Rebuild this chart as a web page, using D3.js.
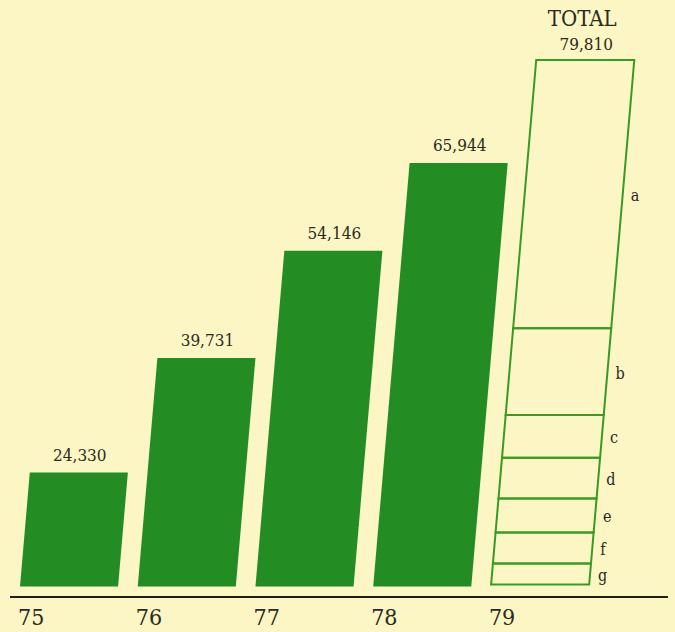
<!DOCTYPE html>
<html>
<head>
<meta charset="utf-8">
<script src="https://cdn.jsdelivr.net/npm/d3@7/dist/d3.min.js"></script>
<style>
  html, body { margin: 0; padding: 0; background: #fbf6c3; }
  svg { display: block; }
  text { font-family: "DejaVu Serif Condensed", "DejaVu Serif", serif; fill: #2b2a22; }
</style>
</head>
<body>
<svg id="chart" width="675" height="632"></svg>
<script>
// Yearly totals
const years = ["75", "76", "77", "78", "79"];
const totals = [24330, 39731, 54146, 65944, 79810];
const valueLabels = ["24,330", "39,731", "54,146", "65,944", "79,810"];

// Breakdown of the final year's total
const segmentKeys = ["g", "f", "e", "d", "c", "b", "a"];
const segmentValues = [3200, 4700, 5200, 6200, 6500, 13200, 40810];

const W = 675, H = 632;
const baseY = 586.5;
const skew = 0.086; // bars lean to the right as they rise

const svg = d3.select("#chart");
svg.append("rect").attr("width", W).attr("height", H).attr("fill", "#fbf6c3");

const x = d3.scaleBand().domain(years).range([20, 589]).paddingInner(0.167).paddingOuter(0).align(0);
const y = d3.scaleLinear().domain([9000, 79810]).range([baseY, 60]);

// parallelogram between two heights, leaning by skew
function slanted(x0, w, yTop, yBot) {
  const offTop = skew * (baseY - yTop), offBot = skew * (baseY - yBot);
  return `M${x0 + offBot},${yBot}L${x0 + offBot + w},${yBot}L${x0 + offTop + w},${yTop}L${x0 + offTop},${yTop}Z`;
}

const bw = x.bandwidth();
const filled = years.slice(0, 4);

svg.append("g").selectAll("path")
  .data(filled)
  .join("path")
  .attr("d", (d, i) => slanted(x(d), bw, y(totals[i]), baseY))
  .attr("fill", "#238c22");

// stacked outline for the last year
const lastYear = years[4];
const total = d3.sum(segmentValues);
const ys = d3.scaleLinear().domain([0, total]).range([baseY - 2, y(totals[4])]);
const stacked = [];
let acc = 0;
segmentKeys.forEach((k, i) => { stacked.push({ key: k, lo: acc, hi: acc + segmentValues[i] }); acc += segmentValues[i]; });

const seg = svg.append("g");
seg.selectAll("path")
  .data(stacked)
  .join("path")
  .attr("d", s => slanted(x(lastYear), bw, ys(s.hi), ys(s.lo)))
  .attr("fill", "none")
  .attr("stroke", "#3a9a24")
  .attr("stroke-width", 2)
  .attr("stroke-linejoin", "miter");

seg.selectAll("text")
  .data(stacked)
  .join("text")
  .attr("x", s => {
    const ym = (ys(s.hi) + ys(s.lo)) / 2;
    return x(lastYear) + bw + skew * (baseY - ym) + 8;
  })
  .attr("y", s => (ys(s.hi) + ys(s.lo)) / 2 + 7)
  .attr("font-size", 16)
  .text(s => s.key);

// value labels above each bar
svg.append("g").selectAll("text")
  .data(years)
  .join("text")
  .attr("x", (d, i) => x(d) + skew * (baseY - y(totals[i])) + bw / 2 + 1)
  .attr("y", (d, i) => y(totals[i]) - (i === 4 ? 10 : 12))
  .attr("text-anchor", "middle")
  .attr("font-size", 17)
  .text((d, i) => valueLabels[i]);

svg.append("text")
  .attr("x", x(lastYear) + skew * (baseY - y(totals[4])) + bw / 2 - 3)
  .attr("y", 26)
  .attr("text-anchor", "middle")
  .attr("font-size", 22)
  .text("TOTAL");

// baseline and year labels
svg.append("line")
  .attr("x1", 10).attr("x2", 668)
  .attr("y1", 597).attr("y2", 597)
  .attr("stroke", "#1e1e1a").attr("stroke-width", 2);

const axis = svg.append("g")
  .attr("transform", `translate(0,${598})`)
  .call(d3.axisBottom(x).tickSize(0).tickPadding(0));
axis.select(".domain").remove();
axis.selectAll("text")
  .attr("text-anchor", "start")
  .attr("x", -bw / 2 - 2)
  .attr("y", 27)
  .attr("dy", null)
  .attr("font-size", 23)
  .style("font-family", "'DejaVu Serif Condensed', 'DejaVu Serif', serif")
  .attr("fill", "#2b2a22");
</script>
</body>
</html>
